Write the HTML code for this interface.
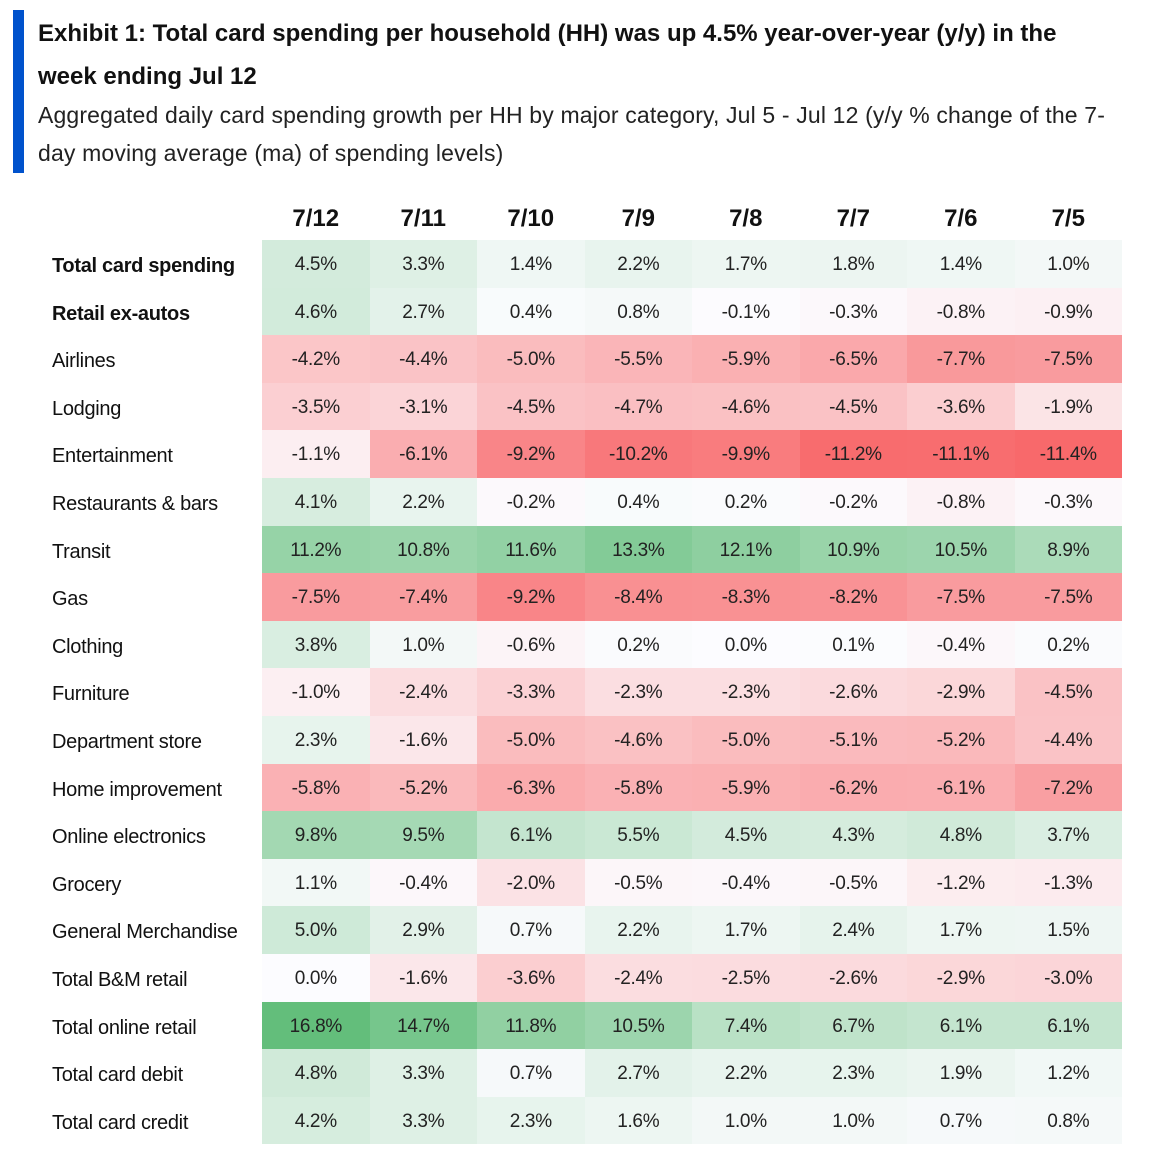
<!DOCTYPE html>
<html><head><meta charset="utf-8">
<style>
body{margin:0;width:1158px;height:1154px;background:#fff;font-family:"Liberation Sans",sans-serif;color:#111;position:relative;overflow:hidden}
#bar{position:absolute;left:13px;top:10px;width:11px;height:163px;background:#0052cc}
#title{position:absolute;left:38px;top:12px;width:1110px;font-weight:bold;font-size:24px;line-height:43px;letter-spacing:0px;white-space:nowrap}
#sub{position:absolute;left:38px;top:96px;width:1110px;font-size:23px;line-height:38px;color:#222;letter-spacing:0.15px;white-space:nowrap}
.hdr{position:absolute;top:205px;font-weight:bold;font-size:24px;text-align:center;width:107.5px}
.lab{position:absolute;left:52px;font-size:20px;line-height:47.6px;padding-top:3px;letter-spacing:-0.3px;white-space:nowrap}
.cell{position:absolute;text-align:center;font-size:19px;color:#222;letter-spacing:-0.3px}
</style></head><body>
<div id="bar"></div>
<div id="title">Exhibit 1: Total card spending per household (HH) was up 4.5% year-over-year (y/y) in the<br>week ending Jul 12</div>
<div id="sub">Aggregated daily card spending growth per HH by major category, Jul 5 - Jul 12 (y/y % change of the 7-<br>day moving average (ma) of spending levels)</div>
<div id="table"></div>
<script>
const dates=["7/12","7/11","7/10","7/9","7/8","7/7","7/6","7/5"];
const categories=["Total card spending","Retail ex-autos","Airlines","Lodging","Entertainment","Restaurants & bars","Transit","Gas","Clothing","Furniture","Department store","Home improvement","Online electronics","Grocery","General Merchandise","Total B&M retail","Total online retail","Total card debit","Total card credit"];
const boldRows=[0,1];
const r0=[4.5,3.3,1.4,2.2,1.7,1.8,1.4,1.0];
const r1=[4.6,2.7,0.4,0.8,-0.1,-0.3,-0.8,-0.9];
const r2=[-4.2,-4.4,-5.0,-5.5,-5.9,-6.5,-7.7,-7.5];
const r3=[-3.5,-3.1,-4.5,-4.7,-4.6,-4.5,-3.6,-1.9];
const r4=[-1.1,-6.1,-9.2,-10.2,-9.9,-11.2,-11.1,-11.4];
const r5=[4.1,2.2,-0.2,0.4,0.2,-0.2,-0.8,-0.3];
const r6=[11.2,10.8,11.6,13.3,12.1,10.9,10.5,8.9];
const r7=[-7.5,-7.4,-9.2,-8.4,-8.3,-8.2,-7.5,-7.5];
const r8=[3.8,1.0,-0.6,0.2,0.0,0.1,-0.4,0.2];
const r9=[-1.0,-2.4,-3.3,-2.3,-2.3,-2.6,-2.9,-4.5];
const r10=[2.3,-1.6,-5.0,-4.6,-5.0,-5.1,-5.2,-4.4];
const r11=[-5.8,-5.2,-6.3,-5.8,-5.9,-6.2,-6.1,-7.2];
const r12=[9.8,9.5,6.1,5.5,4.5,4.3,4.8,3.7];
const r13=[1.1,-0.4,-2.0,-0.5,-0.4,-0.5,-1.2,-1.3];
const r14=[5.0,2.9,0.7,2.2,1.7,2.4,1.7,1.5];
const r15=[0.0,-1.6,-3.6,-2.4,-2.5,-2.6,-2.9,-3.0];
const r16=[16.8,14.7,11.8,10.5,7.4,6.7,6.1,6.1];
const r17=[4.8,3.3,0.7,2.7,2.2,2.3,1.9,1.2];
const r18=[4.2,3.3,2.3,1.6,1.0,1.0,0.7,0.8];
const rows=[r0,r1,r2,r3,r4,r5,r6,r7,r8,r9,r10,r11,r12,r13,r14,r15,r16,r17,r18];

const X0=262,CW=107.5,Y0=240,RH=47.6;
const all=rows.flat();const vmin=Math.min(...all),vmax=Math.max(...all);
function mix(a,b,t){return a.map((v,i)=>Math.round(v+(b[i]-v)*t));}
function color(v){const W=[252,252,255];
 const c=v<0?mix(W,[248,105,107],v/vmin):mix(W,[99,190,123],v/vmax);
 return `rgb(${c[0]},${c[1]},${c[2]})`;}
const T=document.getElementById('table');
dates.forEach((d,j)=>{const h=document.createElement('div');
 
 
 h.className='hdr';h.style.left=(X0+j*CW)+'px';h.textContent=d;T.appendChild(h);});
categories.forEach((c,i)=>{const l=document.createElement('div');
 
 
 l.className='lab';l.style.top=(Y0+i*RH)+'px';l.textContent=c;
 if(boldRows.includes(i))l.style.fontWeight='bold';T.appendChild(l);
 rows[i].forEach((v,j)=>{const e=document.createElement('div');
  
  
  e.className='cell';e.style.left=(X0+j*CW)+'px';e.style.top=(Y0+i*RH)+'px';
  e.style.width=CW+'px';e.style.height=(RH-3)+'px';e.style.paddingTop='3px';e.style.lineHeight=(RH-3)+'px';
  e.style.background=color(v);e.textContent=v.toFixed(1)+'%';T.appendChild(e);});
});
</script>
</body></html>
